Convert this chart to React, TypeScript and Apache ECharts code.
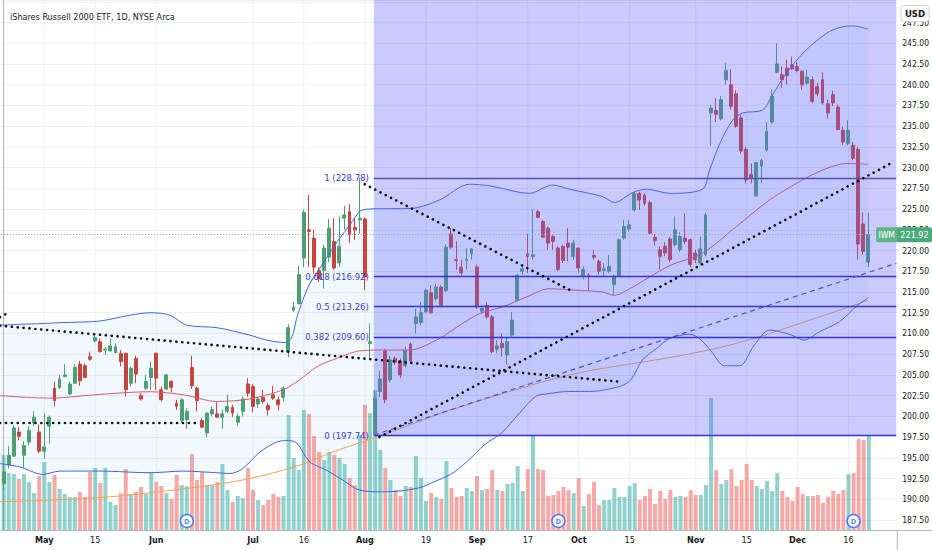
import React, { useEffect, useRef } from "react";
import * as echarts from "echarts";

const FONT = "'Liberation Sans Narrow', 'DejaVu Sans Condensed', Roboto, sans-serif";

// trading days shown (2024)
const tradingDays: [string, number[]][] = [
  ["04", [19, 22, 23, 24, 25, 26, 29, 30]],
  ["05", [1, 2, 3, 6, 7, 8, 9, 10, 13, 14, 15, 16, 17, 20, 21, 22, 23, 24, 28, 29, 30, 31]],
  ["06", [3, 4, 5, 6, 7, 10, 11, 12, 13, 14, 17, 18, 20, 21, 24, 25, 26, 27, 28]],
  ["07", [1, 2, 3, 5, 8, 9, 10, 11, 12, 15, 16, 17, 18, 19, 22, 23, 24, 25, 26, 29, 30, 31]],
  ["08", [1, 2, 5, 6, 7, 8, 9, 12, 13, 14, 15, 16, 19, 20, 21, 22, 23, 26, 27, 28, 29, 30]],
  ["09", [3, 4, 5, 6, 9, 10, 11, 12, 13, 16, 17, 18, 19, 20, 23, 24, 25, 26, 27, 30]],
  ["10", [1, 2, 3, 4, 7, 8, 9, 10, 11, 14, 15, 16, 17, 18, 21, 22, 23, 24, 25, 28, 29, 30, 31]],
  ["11", [1, 4, 5, 6, 7, 8, 11, 12, 13, 14, 15, 18, 19, 20, 21, 22, 25, 26, 27, 29]],
  ["12", [2, 3, 4, 5, 6, 9, 10, 11, 12, 13, 16, 17, 18, 19, 20]],
];
const dates: string[] = tradingDays.flatMap(([m, ds]) => ds.map((d) => `${m}-${String(d).padStart(2, "0")}`));
const padding = ["p1", "p2", "p3", "p4", "p5"];
const categories = [...dates, ...padding];

// x tick labels
const xTickLabels: [string, string, boolean][] = [
  ["05-01", "May", true], ["05-15", "15", false], ["06-03", "Jun", true], ["07-01", "Jul", true],
  ["07-16", "16", false], ["08-01", "Aug", true], ["08-19", "19", false], ["09-03", "Sep", true],
  ["09-17", "17", false], ["10-01", "Oct", true], ["10-15", "15", false], ["11-01", "Nov", true],
  ["11-15", "15", false], ["12-02", "Dec", true], ["12-16", "16", false],
];

// [open, close, low, high]
const ohlc: number[][] = [
  [191.9,193.3,191.2,194.0],[194.1,195.3,193.7,196.4],[195.2,198.6,195.1,198.9],[198.1,197.6,197.1,198.7],
  [195.3,196.5,193.8,197.0],[196.9,198.3,196.5,198.8],[199.2,199.9,198.8,200.6],[198.1,195.8,195.6,199.0],
  [195.8,196.3,194.9,200.4],[198.8,199.9,196.7,200.1],[203.4,201.9,201.2,204.2],[203.5,204.5,203.3,205.0],
  [204.8,205.0,204.7,206.3],[202.7,203.9,202.6,204.2],[204.0,205.9,203.9,206.3],[206.3,204.3,203.7,206.7],
  [206.1,204.7,204.6,206.4],[207.2,206.9,206.7,207.8],[209.1,209.5,208.9,210.0],[209.0,207.8,207.7,209.4],
  [208.0,208.1,207.4,208.4],[207.9,208.5,207.8,209.4],[207.7,208.4,207.6,208.8],[207.6,206.6,206.0,208.0],
  [207.6,203.2,202.4,207.7],[204.0,205.8,203.6,206.0],[207.0,205.1,204.0,207.3],[202.5,202.1,201.9,202.8],
  [203.4,204.2,203.2,205.0],[204.7,205.8,203.2,206.6],
  [207.6,204.6,203.2,207.7],[203.2,202.0,201.8,203.6],[203.3,205.0,203.2,205.1],[204.2,203.5,202.9,204.4],
  [201.6,201.2,200.8,202.0],[199.5,202.0,199.2,202.2],[199.6,200.6,198.5,201.0],[205.9,203.7,203.3,207.3],
  [203.4,201.9,200.6,203.6],[199.5,198.7,198.6,199.8],[198.0,200.4,197.5,200.5],[200.3,200.8,200.0,201.2],
  [200.3,199.9,199.8,201.7],[199.9,200.3,198.5,200.8],[200.6,201.2,200.4,202.6],[201.1,200.4,199.9,201.4],
  [199.3,200.0,198.9,200.3],[200.6,202.1,200.0,202.4],[203.9,202.8,202.4,204.6],
  [203.6,201.2,200.5,203.9],[201.5,202.1,201.0,202.4],[202.3,201.8,201.5,203.2],[201.3,200.8,200.1,201.6],
  [202.6,202.2,202.0,203.7],[202.0,201.4,200.7,202.4],[202.3,203.4,201.8,203.6],[207.8,210.7,207.1,211.1],
  [212.8,213.2,212.6,213.8],[213.6,217.1,213.5,218.2],[219.1,224.6,218.0,224.9],[222.5,222.3,218.0,226.7],
  [221.5,218.0,217.2,222.5],[217.6,216.6,216.2,218.0],[217.6,220.3,215.4,220.7],[219.2,222.7,218.6,223.8],
  [221.1,217.9,217.7,223.9],[218.5,220.5,218.0,224.1],[223.9,224.3,222.5,225.4],[224.7,221.9,220.9,225.6],
  [222.8,222.5,221.3,223.9],[223.7,223.9,222.0,228.78],
  [223.8,216.8,215.2,224.0],[208.8,209.0,206.8,211.2],[197.9,202.2,197.74,203.0],[203.0,204.5,202.3,205.5],
  [207.9,202.0,201.6,208.1],[204.4,206.8,204.1,207.3],[207.0,206.5,206.2,207.2],[206.7,205.0,204.6,207.0],
  [206.1,208.0,205.9,208.4],[208.7,206.7,206.4,208.9],[211.2,212.0,210.0,213.0],[211.3,212.5,211.0,213.8],
  [212.6,215.2,212.5,215.4],[214.9,212.5,212.4,215.8],[214.2,215.6,214.0,216.0],[215.6,213.4,213.2,215.8],
  [215.2,220.4,215.0,220.7],[222.0,220.4,220.2,222.7],[218.9,218.8,217.7,221.1],[218.0,217.3,217.0,218.9],
  [218.8,218.9,217.7,220.3],[219.6,220.2,218.9,220.3],
  [218.0,213.2,213.0,218.3],[212.7,213.0,212.4,213.4],[213.4,212.0,211.8,213.8],[212.0,207.8,207.6,212.2],
  [208.1,208.5,207.6,209.2],[208.8,208.3,207.2,210.0],[207.4,209.0,206.2,209.6],[209.8,211.6,209.6,212.6],
  [214.0,217.0,213.9,217.2],[217.5,217.8,217.1,218.3],[219.6,219.3,217.3,222.0],[219.3,219.5,218.9,225.0],
  [224.7,224.0,223.9,224.9],[223.5,221.6,221.5,223.7],[222.7,220.9,220.1,222.9],[221.7,221.1,220.1,221.9],
  [220.3,217.7,217.5,220.5],[220.5,218.8,218.5,220.7],[220.9,220.4,218.7,222.7],[219.3,220.9,218.9,221.3],
  [220.3,217.9,217.3,220.4],[216.9,217.7,216.5,218.1],[217.0,216.9,215.2,217.3],[219.4,219.2,218.9,220.1],
  [218.7,217.5,217.1,218.9],[217.6,217.8,216.9,218.5],[217.5,218.1,217.3,219.5],[215.9,216.9,214.6,217.1],
  [216.9,221.3,216.8,221.5],[221.5,222.9,221.3,223.7],[222.6,223.1,222.3,223.7],[224.9,226.9,224.7,227.1],
  [226.9,226.1,224.9,227.1],[226.7,225.7,225.4,226.9],[225.8,222.1,221.9,226.0],[221.6,221.2,220.6,222.0],
  [220.1,219.3,217.7,220.5],[220.5,219.7,219.3,221.0],[221.4,218.9,218.6,221.6],[220.7,222.5,220.5,224.1],
  [220.1,221.7,219.8,222.2],[221.5,221.1,220.8,224.5],[221.3,218.3,218.0,221.5],
  [219.7,218.9,218.5,220.1],[218.5,220.2,218.3,221.7],[219.5,224.3,219.3,224.6],[236.6,237.2,232.7,237.6],
  [236.9,236.4,235.5,238.4],[235.9,238.2,235.7,238.6],[240.6,241.7,240.0,242.6],[240.0,237.4,237.0,241.9],
  [238.9,235.0,234.8,239.3],[236.0,232.0,231.7,236.4],[232.2,228.5,228.1,232.5],[229.2,228.7,228.1,230.5],
  [226.6,230.6,226.5,230.7],[230.2,230.9,228.1,231.1],[232.1,234.4,231.9,235.5],[235.5,238.6,235.3,239.4],
  [241.5,242.5,241.4,245.0],[241.2,240.6,239.6,242.2],[242.0,241.1,240.0,243.0],[242.4,241.9,241.8,243.4],
  [242.2,241.7,241.5,242.7],[241.6,240.0,239.4,241.8],[240.2,240.9,240.0,241.8],[240.6,238.0,237.8,241.0],
  [239.8,238.9,238.6,240.2],[240.6,237.8,237.6,241.5],[237.7,236.6,235.9,238.2],[238.8,237.8,237.4,239.3],
  [237.3,234.6,234.5,237.6],[234.5,233.1,232.7,234.9],[232.9,234.5,232.7,235.7],[232.7,231.1,230.9,233.1],
  [232.2,220.8,218.9,232.5],[223.2,219.9,219.5,224.6],[218.6,221.92,218.0,224.6],
];

// volume (millions)
const volumes: number[] = [
  37.5, 28.5, 28, 25.5, 28, 24, 18.5, 27,
  34, 24, 27.5, 20.5, 18, 16.5, 16.5, 19, 16.5, 29, 31, 23.5, 31, 14, 12.5, 18.5, 30.5, 18, 19, 21.5, 18, 29,
  24, 22, 18.5, 15.5, 27.5, 22.5, 22, 38, 25, 29, 22.5, 22.5, 24, 33, 20, 14, 17, 16, 31,
  20, 15, 12.5, 15, 18, 16.5, 17, 57.5, 36, 30, 60, 58, 47, 39, 35, 39, 37.5, 36, 33, 26, 22.5, 47.5,
  62.5, 58.5, 70, 40, 31, 25, 20, 17, 22, 21.5, 37, 26, 14.5, 18.5, 16.5, 15.5, 34.5, 21, 16.5, 17, 21, 19.5,
  27, 20, 20.5, 30, 20, 19.5, 23, 23.5, 32, 19.5, 30.5, 47, 30.5, 30, 17, 17.5, 19.5, 21.5, 20, 18.5,
  26, 12, 18, 24, 12.5, 15, 15, 21, 16.5, 16.5, 22, 23.5, 15, 17, 20.5, 13, 19.5, 15.5, 20, 16.5, 17, 16.5, 20,
  17.5, 17.5, 22.5, 66, 30, 23, 25, 30.5, 22, 25, 33, 25, 22, 20.5, 24.5, 19.5, 28.5, 19.5, 16.5, 14.5,
  21.5, 18, 17, 17, 17.5, 13.5, 16.5, 19.5, 18, 20, 28, 28.5, 45.5, 45, 47.5,
];

// Bollinger bands and SMA read at bar positions [barIndex, price]
const upperBand: number[][] = [
  [-0.7,211.0],[3.2,211.1],[7.7,211.2],[11.1,211.3],[18.9,211.5],[24.8,212.2],[28.8,212.5],[32.7,212.2],
  [36.0,211.0],[41.9,210.7],[48.4,209.8],[51.7,209.2],[55.3,208.9],[56.7,209.6],[57.6,211.8],[58.8,214.0],
  [60.2,216.0],[62.2,217.9],[64.1,219.7],[66.1,221.5],[68.1,223.1],[70.0,224.7],[71.4,225.0],[80.4,225.1],
  [85.7,226.1],[91.6,228.0],[95.6,227.8],[103.4,226.9],[107.9,227.9],[111.3,227.4],[117.8,226.5],[120.1,225.8],
  [123.7,227.0],[126.4,227.4],[131.0,226.9],[137.4,227.4],[138.8,229.7],[140.8,232.9],[143.3,235.7],[145.3,236.6],
  [149.2,236.95],[151.2,238.8],[153.9,241.4],[157.8,244.2],[161.8,246.2],[164.3,246.9],[166.9,247.1],[170,246.7],
];
const lowerBand: number[][] = [
  [-0.7,194.3],[3.2,193.9],[7.7,193.0],[11.1,193.4],[18.9,193.4],[28.8,193.2],[35.3,193.4],[41.9,193.2],
  [44.5,193.1],[47.0,193.7],[50.4,195.7],[53.7,196.9],[55.7,197.1],[57.6,196.8],[60.2,194.5],[63.5,193.5],
  [66.7,192.3],[70.0,191.1],[74.5,190.9],[77.9,191.0],[81.8,191.4],[84.6,192.1],[87.9,193.0],[91.2,194.6],
  [94.6,196.6],[97.9,198.0],[101.3,200.3],[104.6,202.4],[106.6,202.7],[111.3,203.0],[115.2,203.0],[121.1,203.6],
  [123.3,204.4],[125.6,206.8],[128.4,208.2],[131.0,209.4],[134.9,209.9],[136.8,209.4],[139.2,207.8],[141.7,206.1],
  [144.7,206.1],[147.6,208.6],[150.6,210.4],[154.5,209.9],[157.4,209.2],[160.4,210.2],[164.3,211.4],[167.9,213.4],
  [170,214.3],
];
const basisLine: number[][] = [
  [-0.7,202.5],[9.1,202.2],[18.9,202.65],[28.8,202.97],[35.3,202.6],[41.9,201.8],[48.4,202.1],[54.9,203.2],
  [58.2,204.4],[61.6,206.0],[64.7,206.8],[70.0,207.9],[74.5,208.0],[79.8,208.0],[85.1,209.2],[90.2,211.2],
  [93.6,212.4],[98.1,213.2],[102.8,214.4],[107.3,215.4],[112.7,215.2],[117.8,215.0],[120.1,214.6],[123.1,215.4],
  [127.0,216.8],[131.0,218.2],[137.4,219.7],[144.1,222.9],[150.6,226.1],[157.0,228.5],[161.8,229.9],[165.7,230.5],
  [170,230.4],
];
const sma200: number[][] = [
  [-0.7,189.7],[18.9,190.2],[38.6,191.5],[48.4,192.5],[58.2,194.1],[64.7,195.7],[71.4,197.1],[77.9,198.5],
  [87.7,200.75],[111.3,205.0],[131.0,207.1],[140.8,208.3],[148.6,209.6],[156.5,211.2],[164.3,212.8],[170,214.0],
];

// drawings
const dottedTrendLines: number[][][] = [
  [[-0.7, 211.98], [0.7, 212.43]],
  [[-0.7, 210.93], [121.1, 204.18]],
  [[-0.7, 199.2], [38.5, 199.2]],
  [[71.0, 228.0], [111.7, 215.12]],
  [[73.9, 197.5], [174.7, 230.6]],
];
const dashedTrendLine: number[][] = [[72.8, 197.74], [175.5, 218.46]];
const fibHigh = 228.78;
const fibLow = 197.74;
const fibLevels = [1, 0.618, 0.5, 0.382, 0];
const fibStart = 72.8;
const fibEnd = 175.5;
const dividendDates = ["06-11", "09-25", "12-17"];

const Y_MIN = 187.5;
const Y_MAX = 250.22;
const VOL_MAX = 265;
const X_MIN = -0.5;
const X_MAX = categories.length - 0.5;

export default function App() {
  const ref = useRef<HTMLDivElement>(null);
  useEffect(() => {
    if (!ref.current) return;
    const chart = echarts.init(ref.current, null, { renderer: "svg" });
    const up = "#4C9E73";
    const down = "#C8443F";
    const volUp = "rgba(38,166,154,0.5)";
    const volDown = "rgba(239,83,80,0.5)";
    const lastClose = ohlc[ohlc.length - 1][1];
    const tickMap: Record<string, [string, boolean]> = {};
    xTickLabels.forEach(([d, t, b]) => (tickMap[d] = [t, b]));
    const tickPositions = xTickLabels.map(([d]) => dates.indexOf(d));
    const gridLeft = 1.05;
    const gridWidth = 895.8;

    const lineSeries = (data: number[][], color: string, z: number, extra: any = {}) => ({
      type: "line",
      xAxisIndex: 1,
      yAxisIndex: 0,
      data,
      showSymbol: false,
      symbol: "none",
      silent: true,
      z,
      lineStyle: { color, width: 1, ...(extra.lineStyle || {}) },
      smooth: extra.smooth ?? false,
    });

    const option: any = {
      animation: false,
      backgroundColor: "#ffffff",
      textStyle: { fontFamily: FONT },
      title: {
        text: "iShares Russell 2000 ETF, 1D, NYSE Arca",
        left: 5,
        top: 7,
        textStyle: { fontSize: 9, fontWeight: "normal", color: "#131722", fontFamily: FONT },
      },
      grid: [
        { left: gridLeft, top: 0, width: gridWidth, height: 520 },
        { left: gridLeft, top: 0, width: gridWidth, height: 530 },
      ],
      xAxis: [
        { type: "category", gridIndex: 0, data: categories, boundaryGap: true, show: false },
        { type: "value", gridIndex: 0, min: X_MIN, max: X_MAX, show: false },
        {
          type: "category",
          gridIndex: 1,
          data: categories,
          boundaryGap: true,
          axisLine: { show: true, lineStyle: { color: "#B2B5BE", width: 1 } },
          axisTick: { show: false },
          splitLine: { show: false },
          axisLabel: {
            interval: (_i: number, v: string) => !!tickMap[v],
            formatter: (v: string) => {
              const t = tickMap[v];
              if (!t) return "";
              return t[1] ? `{m|${t[0]}}` : `{d|${t[0]}}`;
            },
            margin: 5,
            rich: {
              m: { fontWeight: "bold", fontSize: 9, color: "#131722", fontFamily: FONT },
              d: { fontSize: 9, color: "#131722", fontFamily: FONT },
            },
          },
        },
        { type: "value", gridIndex: 1, min: X_MIN, max: X_MAX, show: false },
      ],
      yAxis: [
        {
          type: "value",
          gridIndex: 0,
          position: "right",
          min: Y_MIN,
          max: Y_MAX,
          interval: 2.5,
          axisLine: { show: false },
          axisTick: { show: false },
          axisLabel: {
            formatter: (v: number) => (v > 249 ? "" : v.toFixed(2)),
            color: "#131722",
            fontSize: 8.5,
            margin: 6,
            showMaxLabel: false,
            fontFamily: FONT,
          },
          splitLine: { show: true, lineStyle: { color: "#EDEFF3", width: 1 } },
        },
        {
          type: "value",
          gridIndex: 1,
          position: "right",
          min: 0,
          max: VOL_MAX,
          axisLine: { show: true, lineStyle: { color: "#B2B5BE", width: 1 } },
          axisTick: { show: false },
          axisLabel: { show: false },
          splitLine: { show: false },
        },
      ],
      series: [
        {
          type: "custom",
          name: "vgrid",
          xAxisIndex: 3,
          yAxisIndex: 1,
          silent: true,
          z: 0,
          data: tickPositions.map((p) => [p, 0]),
          renderItem: (_p: any, api: any) => {
            const x = api.value(0);
            const a = api.coord([x, 0]);
            const b = api.coord([x, VOL_MAX]);
            return {
              type: "line",
              shape: { x1: a[0], y1: a[1], x2: b[0], y2: b[1] },
              style: { stroke: "#EDEFF3", lineWidth: 1 },
            };
          },
        },
        {
          type: "custom",
          name: "bbfill",
          xAxisIndex: 1,
          yAxisIndex: 0,
          silent: true,
          z: 0,
          data: [[0, 200]],
          renderItem: (_p: any, api: any) => {
            const pts: number[][] = [];
            upperBand.forEach((d) => pts.push(api.coord(d)));
            for (let i = lowerBand.length - 1; i >= 0; i--) pts.push(api.coord(lowerBand[i]));
            return { type: "polygon", shape: { points: pts }, style: { fill: "rgba(33,150,243,0.06)" } };
          },
        },
        {
          type: "bar",
          name: "Volume",
          xAxisIndex: 2,
          yAxisIndex: 1,
          barWidth: 4,
          silent: true,
          z: 1,
          data: volumes.map((v, i) => ({
            value: v,
            itemStyle: { color: ohlc[i][1] >= ohlc[i][0] ? volUp : volDown },
          })),
        },
        {
          type: "candlestick",
          name: "IWM",
          xAxisIndex: 0,
          yAxisIndex: 0,
          barWidth: 3.4,
          z: 2,
          silent: true,
          data: ohlc,
          itemStyle: { color: up, color0: down, borderColor: up, borderColor0: down, borderWidth: 1 },
          markLine: {
            silent: true,
            symbol: ["none", "none"],
            label: { show: false },
            lineStyle: { color: "#A3A6AF", type: [1, 2], width: 1 },
            data: [{ yAxis: lastClose }],
          },
        },
        lineSeries(sma200, "#F2A451", 3, { smooth: 0.3 }),
        lineSeries(basisLine, "#E0566D", 3, { smooth: 0.3 }),
        lineSeries(upperBand, "#3F66E3", 3, { smooth: 0.3 }),
        lineSeries(lowerBand, "#3F66E3", 3, { smooth: 0.3 }),
        {
          type: "custom",
          name: "rect",
          xAxisIndex: 1,
          yAxisIndex: 0,
          silent: true,
          z: 4,
          data: [[fibStart, fibLow]],
          renderItem: (_p: any, api: any) => {
            const p1 = api.coord([fibStart, Y_MAX]);
            const p2 = api.coord([fibEnd, fibLow]);
            return {
              type: "rect",
              shape: { x: p1[0], y: p1[1], width: p2[0] - p1[0], height: p2[1] - p1[1] },
              style: { fill: "rgba(100,100,250,0.34)" },
            };
          },
        },
        lineSeries(dashedTrendLine, "#4650E0", 6, { lineStyle: { type: [5, 4], width: 1.2 } }),
        ...dottedTrendLines.map((seg) =>
          lineSeries(seg, "#111111", 7, { lineStyle: { type: [0.1, 5.8], width: 2.6, cap: "round" } })
        ),
        {
          type: "line",
          name: "fib",
          xAxisIndex: 1,
          yAxisIndex: 0,
          data: [[-100, 0]],
          symbol: "none",
          silent: true,
          z: 6,
          markLine: {
            silent: true,
            symbol: ["none", "none"],
            animation: false,
            data: fibLevels.map((lvl) => {
              const v = fibLow + lvl * (fibHigh - fibLow);
              return [
                {
                  coord: [fibStart, v],
                  lineStyle: { color: lvl === 1 ? "#5252B0" : "#3434D4", width: 1.4, type: "solid" },
                  label: {
                    show: true,
                    position: "start",
                    distance: 5,
                    formatter: `${lvl} (${v.toFixed(2)})`,
                    color: "#3A3AD6",
                    fontSize: 9.5,
                    fontFamily: FONT,
                  },
                },
                { coord: [fibEnd, v] },
              ];
            }),
          },
        },
        {
          type: "scatter",
          name: "Dividends",
          xAxisIndex: 2,
          yAxisIndex: 1,
          symbol: "circle",
          symbolSize: 13,
          silent: true,
          z: 8,
          itemStyle: { color: "#ffffff", borderColor: "#2962FF", borderWidth: 1.5 },
          label: {
            show: true,
            position: "inside",
            formatter: "D",
            color: "#2962FF",
            fontSize: 8,
            fontWeight: "bold",
            fontFamily: "Roboto, sans-serif",
          },
          data: dividendDates.map((d) => [d, 4.5]),
        },
      ],
    };
    chart.setOption(option);

    const yLast = chart.convertToPixel({ yAxisIndex: 0 } as any, lastClose) as number;
    chart.setOption({
      graphic: [
        { type: "rect", z: 100, shape: { x: 876, y: yLast - 7.5, width: 21, height: 15, r: [2, 0, 0, 2] }, style: { fill: "#62B58B" } },
        { type: "rect", z: 100, shape: { x: 897, y: yLast - 7.5, width: 35, height: 15, r: [0, 2, 2, 0] }, style: { fill: "#4CA97A" } },
        { type: "text", z: 101, x: 878.5, y: yLast, style: { text: "IWM", fill: "#ffffff", fontSize: 8.5, fontFamily: FONT, verticalAlign: "middle" } },
        { type: "text", z: 101, x: 914.5, y: yLast, style: { text: lastClose.toFixed(2), fill: "#ffffff", fontSize: 9, fontFamily: FONT, align: "center", verticalAlign: "middle" } },
        { type: "rect", z: 100, shape: { x: 901, y: 5.5, width: 28, height: 16, r: 3 }, style: { fill: "#ffffff", stroke: "#D1D4DC", lineWidth: 1 } },
        { type: "text", z: 101, x: 915, y: 13.5, style: { text: "USD", fill: "#131722", fontSize: 9.5, fontWeight: "bold", fontFamily: FONT, align: "center", verticalAlign: "middle" } },
        { type: "line", z: 100, shape: { x1: 897, y1: 530.5, x2: 932, y2: 530.5 }, style: { stroke: "#B2B5BE", lineWidth: 1 } },
        { type: "line", z: 100, shape: { x1: 897.3, y1: 530, x2: 897.3, y2: 550 }, style: { stroke: "#B2B5BE", lineWidth: 1 } },
      ],
    });
    return () => chart.dispose();
  }, []);
  return (
    <div
      ref={ref}
      style={{ position: "fixed", left: 0, top: 0, width: 932, height: 550, background: "#ffffff" }}
    />
  );
}
